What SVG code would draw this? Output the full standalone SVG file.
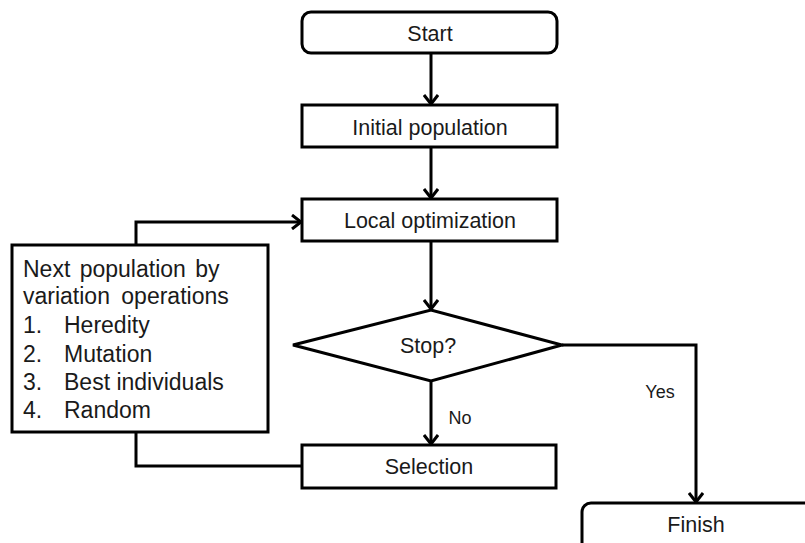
<svg xmlns="http://www.w3.org/2000/svg" width="805" height="543" viewBox="0 0 805 543">
<defs>
<marker id="arr" markerWidth="14" markerHeight="16" refX="11" refY="8" orient="auto" markerUnits="userSpaceOnUse">
<path d="M2,1 L11,8 L2,15" fill="none" stroke="#000" stroke-width="3"/>
</marker>
<style>
.box{fill:#fff;stroke:#000;stroke-width:3}
.ln{fill:none;stroke:#000;stroke-width:3}
.t{font-family:"Liberation Sans",Arial,sans-serif;font-size:21.5px;fill:#1a1a1a;text-anchor:middle}
.l{font-family:"Liberation Sans",Arial,sans-serif;font-size:23px;fill:#1a1a1a}
.s{font-family:"Liberation Sans",Arial,sans-serif;font-size:18px;fill:#1a1a1a;text-anchor:middle}
</style>
</defs>
<rect width="805" height="543" fill="#fff"/>
<g id="connectors">
<line class="ln" x1="431" y1="53" x2="431" y2="104" marker-end="url(#arr)"/>
<line class="ln" x1="431" y1="147" x2="431" y2="198" marker-end="url(#arr)"/>
<line class="ln" x1="431" y1="241" x2="431" y2="309" marker-end="url(#arr)"/>
<line class="ln" x1="431" y1="381" x2="431" y2="444" marker-end="url(#arr)"/>
<polyline class="ln" points="136,245 136,222 301,222" marker-end="url(#arr)"/>
<polyline class="ln" points="136,432 136,466 302,466"/>
<polyline class="ln" points="562,345 696,345 696,502" marker-end="url(#arr)"/>
<text class="s" x="460" y="424">No</text>
<text class="s" x="660" y="398">Yes</text>
</g>
<g id="start">
<rect class="box" x="302" y="12" width="255" height="41" rx="9"/>
<text class="t" x="430" y="41">Start</text>
</g>
<g id="initial">
<rect class="box" x="302" y="105" width="255" height="42"/>
<text class="t" x="430" y="135">Initial population</text>
</g>
<g id="local">
<rect class="box" x="302" y="199" width="255" height="42"/>
<text class="t" x="430" y="228">Local optimization</text>
</g>
<g id="stop">
<polygon class="box" points="293,345 431,310 562,345 431,381"/>
<text class="t" x="428" y="353">Stop?</text>
</g>
<g id="selection">
<rect class="box" x="302" y="445" width="254" height="43"/>
<text class="t" x="429" y="474">Selection</text>
</g>
<g id="next">
<rect class="box" x="12" y="245" width="256" height="187"/>
<text class="l" x="23" y="277" word-spacing="3">Next population by</text>
<text class="l" x="23" y="304" word-spacing="5">variation operations</text>
<text class="l" x="23" y="333">1.</text><text class="l" x="64" y="333">Heredity</text>
<text class="l" x="23" y="362">2.</text><text class="l" x="64" y="362">Mutation</text>
<text class="l" x="23" y="390">3.</text><text class="l" x="64" y="390">Best individuals</text>
<text class="l" x="23" y="418">4.</text><text class="l" x="64" y="418">Random</text>
</g>
<g id="finish">
<rect class="box" x="582" y="503" width="240" height="60" rx="9"/>
<text class="t" x="696" y="532">Finish</text>
</g>
</svg>
